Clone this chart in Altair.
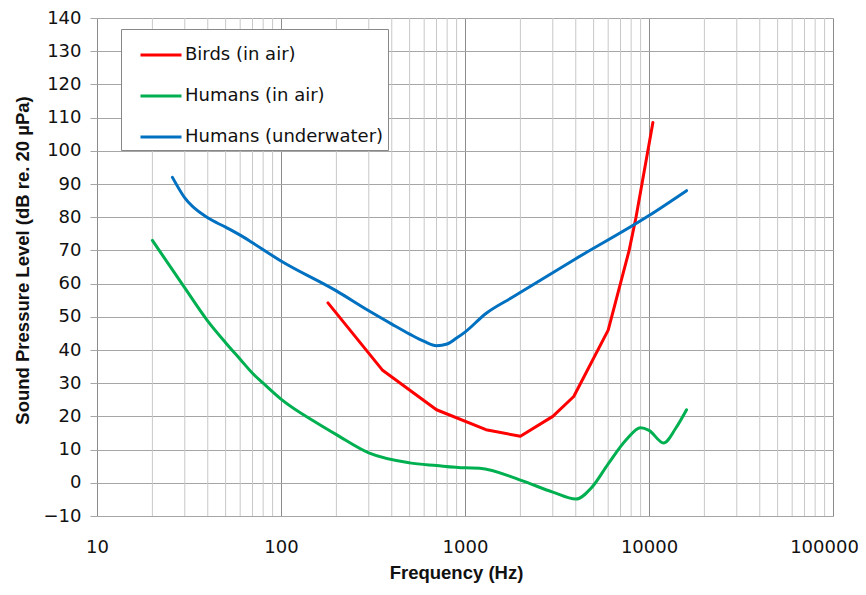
import altair as alt
import pandas as pd

series_names = ["Birds (in air)", "Humans (in air)", "Humans (underwater)"]
series_colors = ["#FF0000", "#00B050", "#0070C0"]

birds_freq = [180, 355, 700, 1300, 2000, 3000, 3900, 6000, 7800, 8500, 10500]
birds_spl = [54.2, 34, 22, 16, 14, 20, 26, 46, 70, 80, 108.5]

humans_air_freq = [20, 30, 40, 50, 60, 70, 80, 100, 160, 200, 300, 500, 700,
                   1000, 1200, 2000, 3000, 4000, 4900, 6000, 7500, 9000, 10000,
                   12000, 14000, 16000]
humans_air_spl = [73, 58.7, 48.7, 42.2, 37.2, 33, 30, 25.2, 17.7, 14.5, 9, 6,
                  5.2, 4.5, 4.4, 0.8, -2.8, -4.9, -1.3, 5.7, 12.9, 16.6, 15.8,
                  12, 16.5, 22]

humans_water_freq = [25.7, 30, 40, 50, 60, 70, 100, 200, 300, 400, 500, 600, 700,
                     800, 900, 1000, 1300, 1800, 4000, 10000, 16000]
humans_water_spl = [92, 85.8, 79.8, 77, 74.6, 72.3, 66.8, 57.8, 51.8, 47.8, 44.8,
                    42.6, 41.3, 41.8, 43.6, 45.4, 51, 55.8, 67.5, 80.5, 88]

x_ticks = [10, 100, 1000, 10000, 100000]
x_minor = [20, 30, 40, 50, 60, 70, 80, 90,
           200, 300, 400, 500, 600, 700, 800, 900,
           2000, 3000, 4000, 5000, 6000, 7000, 8000, 9000,
           20000, 30000, 40000, 50000, 60000, 70000, 80000, 90000]
y_ticks = [-10, 0, 10, 20, 30, 40, 50, 60, 70, 80, 90, 100, 110, 120, 130, 140]

rows = []
for name, fs, vs in zip(series_names,
                        [birds_freq, humans_air_freq, humans_water_freq],
                        [birds_spl, humans_air_spl, humans_water_spl]):
    for f, v in zip(fs, vs):
        rows.append({"series": name, "freq": f, "spl": v})
df = pd.DataFrame(rows)
minor_df = pd.DataFrame({"freq": x_minor})

LABEL_FONT = "DejaVu Sans"
TITLE_FONT = "Liberation Sans"

x_scale = alt.Scale(type="log", domain=[10, 100000])
y_scale = alt.Scale(domain=[-10, 140], nice=False, zero=False)

x_axis = alt.Axis(values=x_ticks, format="d", grid=True, gridColor="#8c8c8c",
                  ticks=False, domain=False, labelFont=LABEL_FONT, labelFontSize=18,
                  labelColor="#111111", labelPadding=22, labelFlush=False,
                  labelOverlap=False,
                  labelOffset={"condition": {"test": "datum.value == 100000", "value": -9},
                               "value": 0},
                  title="Frequency (Hz)", titleFont=TITLE_FONT, titleFontSize=18.5,
                  titleFontWeight="bold", titleColor="#111111",
                  titleX=359, titleY=56, titleBaseline="middle", titleAlign="center")
y_axis = alt.Axis(values=y_ticks, grid=True, gridColor="#a6a6a6", tickColor="#a6a6a6",
                  tickSize=7, domain=False, labelFont=LABEL_FONT, labelFontSize=18,
                  labelColor="#111111", labelPadding=9, labelFlush=False,
                  labelOverlap=False,
                  title="Sound Pressure Level (dB re. 20 µPa)", titleFont=TITLE_FONT,
                  titleFontSize=18.5, titleFontWeight="bold", titleColor="#111111",
                  titleX=-75, titleY=242, titleBaseline="middle", titleAlign="center",
                  titleAngle=270)

legend = alt.Legend(title=None, orient="none", legendX=24, legendY=11,
                    direction="vertical", symbolType="stroke", symbolSize=1681,
                    symbolStrokeWidth=3, labelFont=LABEL_FONT, labelFontSize=18,
                    labelColor="#111111", labelLimit=400, padding=4, rowPadding=10,
                    symbolOffset=14, labelOffset=2, strokeColor="#888888",
                    fillColor="white")

color = alt.Color("series:N", scale=alt.Scale(domain=series_names, range=series_colors),
                  legend=legend)

minor = alt.Chart(minor_df).mark_rule(color="#c8c8c8", strokeWidth=1).encode(
    x=alt.X("freq:Q", scale=x_scale, axis=x_axis)
)

base = alt.Chart(df).encode(
    x=alt.X("freq:Q", scale=x_scale, axis=x_axis),
    y=alt.Y("spl:Q", scale=y_scale, axis=y_axis),
    color=color,
)

birds = base.transform_filter(alt.datum.series == series_names[0]).mark_line(
    interpolate="linear", strokeWidth=3, strokeCap="round", strokeJoin="round")
air = base.transform_filter(alt.datum.series == series_names[1]).mark_line(
    interpolate="monotone", strokeWidth=3, strokeCap="round")
water = base.transform_filter(alt.datum.series == series_names[2]).mark_line(
    interpolate="monotone", strokeWidth=3, strokeCap="round")

chart = alt.layer(minor, birds, air, water).properties(
    width=736, height=498,
    autosize=alt.AutoSizeParams(type="none"),
    padding={"left": 89, "top": 10, "right": 25, "bottom": 70},
).configure_view(stroke="#999999", strokeWidth=1).configure(background="white")

chart.save("out.html", embed_options={"renderer": "svg", "actions": False})
